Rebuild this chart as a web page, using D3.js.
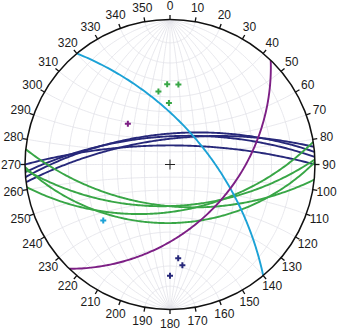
<!DOCTYPE html>
<html><head><meta charset="utf-8">
<script src="https://cdn.jsdelivr.net/npm/d3@7"></script>
<style>body{margin:0;background:#fff}</style>
</head><body>
<svg id="c" width="340" height="332"></svg>
<script>
// ---- data (strike / dip, right-hand rule; poles as trend / plunge) ----
const tickAzimuths = d3.range(0, 360, 10);
const tickLabels = tickAzimuths.map(String);

const navyStrike = [265, 263, 270, 267];
const navyDip    = [66, 70, 75, 68];
const navyPoleTrend  = [175, 173, 180];
const navyPolePlunge = [24, 20, 15];

const greenStrike = [81, 88, 96, 89];
const greenDip    = [54, 58, 58, 46];
const greenPoleTrend  = [351, 358, 6, 359];
const greenPolePlunge = [36, 32, 32, 44];

const cyanStrike = [320];
const cyanDip    = [62];
const cyanPoleTrend  = [230];
const cyanPolePlunge = [28];

const purpleStrike = [44];
const purpleDip    = [44];
const purplePoleTrend  = [314];
const purplePolePlunge = [46];

// ---- setup ----
const W = 340, H = 332, cx = 170, cy = 164.5, R = 145;
const rad = Math.PI / 180;
const svg = d3.select("#c");
// equal-angle (Wulff) radial scale: tan((90-plunge)/2) in [0,1] -> [0,R]
const rScale = d3.scaleLinear().domain([0, 1]).range([0, R]);

function tpToXY(trend, plunge) {
  const r = rScale(Math.tan((90 - plunge) / 2 * rad));
  return [cx + r * Math.sin(trend * rad), cy - r * Math.cos(trend * rad)];
}
function vecToXY(e, n, d) {
  if (d < 0) { e = -e; n = -n; d = -d; }
  const len = Math.hypot(e, n, d);
  const pl = Math.asin(Math.min(1, d / len)) / rad;
  const tr = Math.atan2(e, n) / rad;
  return tpToXY(tr, pl);
}
function greatCircle(strike, dip) {
  const s = strike * rad, dd = (strike + 90) * rad, d = dip * rad;
  const S = [Math.sin(s), Math.cos(s), 0];
  const D = [Math.cos(d) * Math.sin(dd), Math.cos(d) * Math.cos(dd), Math.sin(d)];
  return d3.range(0, 180.5, 1).map(l => {
    const c = Math.cos(l * rad), sn = Math.sin(l * rad);
    return vecToXY(c * S[0] + sn * D[0], c * S[1] + sn * D[1], c * S[2] + sn * D[2]);
  });
}
function smallCircleNS(alpha) {
  const a = alpha * rad;
  return d3.range(0, 180.5, 1).map(p => {
    const ph = p * rad;
    return vecToXY(Math.sin(a) * Math.cos(ph), Math.cos(a), Math.sin(a) * Math.sin(ph));
  });
}
const line = d3.line().curve(d3.curveLinear);

svg.append("rect").attr("width", W).attr("height", H).attr("fill", "#fff");
svg.append("defs").append("clipPath").attr("id", "clip")
  .append("circle").attr("cx", cx).attr("cy", cy).attr("r", R);

// ---- grid (Wulff net, 10 deg) ----
const grid = svg.append("g").attr("clip-path", "url(#clip)")
  .attr("fill", "none").attr("stroke", "#e2e2e8").attr("stroke-width", 0.8);
d3.range(10, 91, 10).forEach(dp => {
  grid.append("path").attr("d", line(greatCircle(0, dp)));
  if (dp < 90) grid.append("path").attr("d", line(greatCircle(180, dp)));
});
d3.range(10, 171, 10).forEach(a => {
  grid.append("path").attr("d", line(smallCircleNS(a)));
});

// ---- great circles ----
const gc = svg.append("g").attr("clip-path", "url(#clip)").attr("fill", "none").attr("stroke-width", 1.9);
function drawPlanes(strikes, dips, color) {
  strikes.forEach((s, i) => {
    gc.append("path").attr("d", line(greatCircle(s, dips[i]))).attr("stroke", color);
  });
}
const NAVY = "#27287a", GREEN = "#38a646", CYAN = "#1ca2d6", PURPLE = "#7d1f85";
drawPlanes(navyStrike, navyDip, NAVY);
drawPlanes(greenStrike, greenDip, GREEN);
drawPlanes(cyanStrike, cyanDip, CYAN);
drawPlanes(purpleStrike, purpleDip, PURPLE);

// ---- poles ----
const pl = svg.append("g").attr("stroke-width", 2);
function drawPoles(trends, plunges, color) {
  trends.forEach((t, i) => {
    const [x, y] = tpToXY(t, plunges[i]);
    pl.append("path").attr("d", `M${x - 3},${y}H${x + 3}M${x},${y - 3}V${y + 3}`)
      .attr("stroke", color);
  });
}
drawPoles(navyPoleTrend, navyPolePlunge, NAVY);
drawPoles(greenPoleTrend, greenPolePlunge, GREEN);
drawPoles(cyanPoleTrend, cyanPolePlunge, CYAN);
drawPoles(purplePoleTrend, purplePolePlunge, PURPLE);

// center cross
svg.append("path").attr("d", `M${cx - 5},${cy}H${cx + 5}M${cx},${cy - 5}V${cy + 5}`)
  .attr("stroke", "#222").attr("stroke-width", 1);

// ---- primitive, ticks, labels ----
svg.append("circle").attr("cx", cx).attr("cy", cy).attr("r", R)
  .attr("fill", "none").attr("stroke", "#111").attr("stroke-width", 1.5);
const ax = svg.append("g");
tickAzimuths.forEach((az, i) => {
  const s = Math.sin(az * rad), c = Math.cos(az * rad);
  ax.append("line")
    .attr("x1", cx + R * s).attr("y1", cy - R * c)
    .attr("x2", cx + (R + 4.5) * s).attr("y2", cy - (R + 4.5) * c)
    .attr("stroke", "#111").attr("stroke-width", 1.3);
  ax.append("text")
    .attr("x", cx + (R + 14) * s).attr("y", cy - (R + 14) * c)
    .attr("text-anchor", "middle").attr("dominant-baseline", "central")
    .attr("font-family", "Liberation Sans, Arial, sans-serif").attr("font-size", 12)
    .attr("fill", "#1a1a1a").text(tickLabels[i]);
});
</script>
</body></html>
